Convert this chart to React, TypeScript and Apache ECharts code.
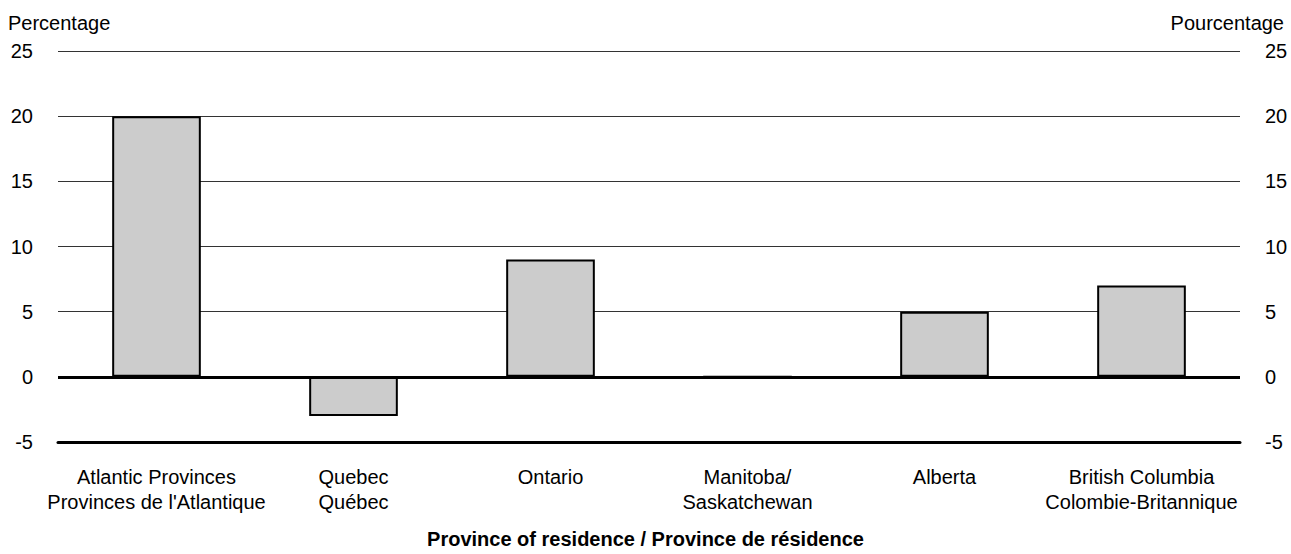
import React, { useEffect, useRef } from "react";
import * as echarts from "echarts";

const categories = [
  "Atlantic Provinces\nProvinces de l'Atlantique",
  "Quebec\nQuébec",
  "Ontario",
  "Manitoba/\nSaskatchewan",
  "Alberta",
  "British Columbia\nColombie-Britannique",
];
const values = [20, -3, 9, 0, 5, 7];
const yMin = -5;
const yMax = 25;
const yInterval = 5;
const leftAxisTitle = "Percentage";
const rightAxisTitle = "Pourcentage";
const xAxisTitle = "Province of residence / Province de résidence";

const FONT = "Arial, 'Liberation Sans', sans-serif";

export default function App() {
  const ref = useRef<HTMLDivElement>(null);
  useEffect(() => {
    if (!ref.current) return;
    const chart = echarts.init(ref.current, undefined, { renderer: "svg" });
    const yAxisBase = {
      type: "value" as const,
      min: yMin,
      max: yMax,
      interval: yInterval,
      axisLine: { show: false },
      axisTick: { show: false },
      axisLabel: { color: "#000", fontSize: 20, fontFamily: FONT, margin: 25 },
    };
    chart.setOption({
      animation: false,
      backgroundColor: "#fff",
      textStyle: { fontFamily: FONT },
      grid: { left: 58, right: 51, top: 51, bottom: 112, containLabel: false },
      title: {
        text: xAxisTitle,
        left: "center",
        top: 524,
        textStyle: { fontSize: 20, fontWeight: "bold", color: "#000", fontFamily: FONT },
      },
      graphic: [
        {
          type: "text",
          x: 8,
          y: 23,
          style: { text: leftAxisTitle, fill: "#000", font: `20px ${FONT}`, verticalAlign: "middle", align: "left" },
        },
        {
          type: "text",
          x: 1284,
          y: 23,
          style: { text: rightAxisTitle, fill: "#000", font: `20px ${FONT}`, verticalAlign: "middle", align: "right" },
        },
      ],
      xAxis: {
        type: "category",
        data: categories,
        axisLine: { onZero: false, lineStyle: { color: "#000", width: 3 } },
        axisTick: { show: false },
        axisLabel: { color: "#000", fontSize: 20, fontFamily: FONT, lineHeight: 25, margin: 22, interval: 0 },
      },
      yAxis: [
        {
          ...yAxisBase,
          position: "left",
          splitLine: { show: true, lineStyle: { color: "#333", width: 1 } },
        },
        {
          ...yAxisBase,
          position: "right",
          splitLine: { show: false },
        },
      ],
      series: [
        {
          type: "bar",
          data: values,
          barWidth: "45%",
          itemStyle: { color: "#cccccc", borderColor: "#000", borderWidth: 2 },
          markLine: {
            silent: true,
            symbol: "none",
            label: { show: false },
            lineStyle: { color: "#000", width: 3, type: "solid" },
            data: [{ yAxis: 0 }],
          },
        },
      ],
    });
    return () => chart.dispose();
  }, []);
  return (
    <div
      ref={ref}
      style={{ position: "fixed", left: 0, top: 0, width: 1291, height: 554, background: "#fff" }}
    />
  );
}
